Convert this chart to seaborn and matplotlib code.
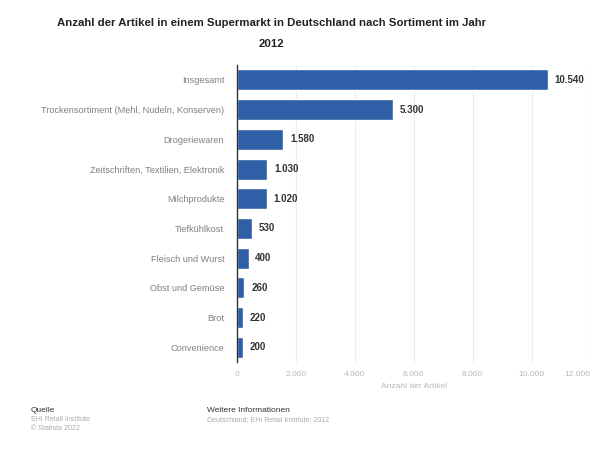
import matplotlib
matplotlib.use("Agg")
import matplotlib.pyplot as plt
import seaborn as sns
import pandas as pd

categories = ["Insgesamt", "Trockensortiment (Mehl, Nudeln, Konserven)", "Drogeriewaren",
              "Zeitschriften, Textilien, Elektronik", "Milchprodukte", "Tiefkühlkost",
              "Fleisch und Wurst", "Obst und Gemüse", "Brot", "Convenience"]
values = [10540, 5300, 1580, 1030, 1020, 530, 400, 260, 220, 200]
xticks = [0, 2000, 4000, 6000, 8000, 10000, 12000]
xtick_labels = ["0", "2.000", "4.000", "6.000", "8.000", "10.000", "12.000"]

df = pd.DataFrame({"cat": categories, "val": values})

sns.set_theme(style="white")
plt.rcParams['font.family'] = ['Liberation Sans', 'DejaVu Sans']

fig = plt.figure(figsize=(6.04, 4.55), dpi=100)
fig.patch.set_facecolor("white")
ax = fig.add_axes([0.392, 0.204, 0.586, 0.653])

sns.barplot(data=df, x="val", y="cat", color="#2f5fa6", saturation=1, width=0.71, ax=ax, zorder=3)

ax.set_xlim(0, 12000)
ax.set_xticks(xticks)
ax.set_xticklabels(xtick_labels, fontsize=6, color="#b8b8b8")
ax.get_xticklabels()[-1].set_horizontalalignment("right")
ax.tick_params(axis="y", labelsize=6.6, length=0, pad=9)
ax.tick_params(axis="x", length=0, pad=6)
for lbl in ax.get_yticklabels():
    lbl.set_color("#808080")
ax.grid(axis="x", color="#ececec", linewidth=0.8, zorder=0)
for s in ["top", "right", "bottom"]:
    ax.spines[s].set_visible(False)
ax.spines["left"].set_color("#333333")
ax.spines["left"].set_linewidth(1.0)
ax.spines["left"].set_zorder(5)
ax.set_ylabel("")
ax.set_xlabel("Anzahl der Artikel", fontsize=6, color="#b8b8b8", labelpad=4)

for i, v in enumerate(values):
    ax.text(v + 230, i, f"{v:,}".replace(",", "."), va="center", ha="left",
            fontsize=7, fontweight="bold", color="#333333", zorder=4)

fig.text(0.45, 0.96, "Anzahl der Artikel in einem Supermarkt in Deutschland nach Sortiment im Jahr\n2012",
         ha="center", va="top", fontsize=8.2, fontweight="bold", color="#222222", linespacing=2.3)

fig.text(0.051, 0.098, "Quelle", fontsize=6, color="#333333", va="center")
fig.text(0.051, 0.079, "EHI Retail Institute", fontsize=5, color="#aaaaaa", va="center")
fig.text(0.051, 0.059, "© Statista 2022", fontsize=5, color="#aaaaaa", va="center")
fig.text(0.343, 0.098, "Weitere Informationen", fontsize=6, color="#333333", va="center")
fig.text(0.343, 0.079, "Deutschland; EHI Retail Institute; 2012", fontsize=5, color="#aaaaaa", va="center")

fig.savefig("out.png", dpi=100)
